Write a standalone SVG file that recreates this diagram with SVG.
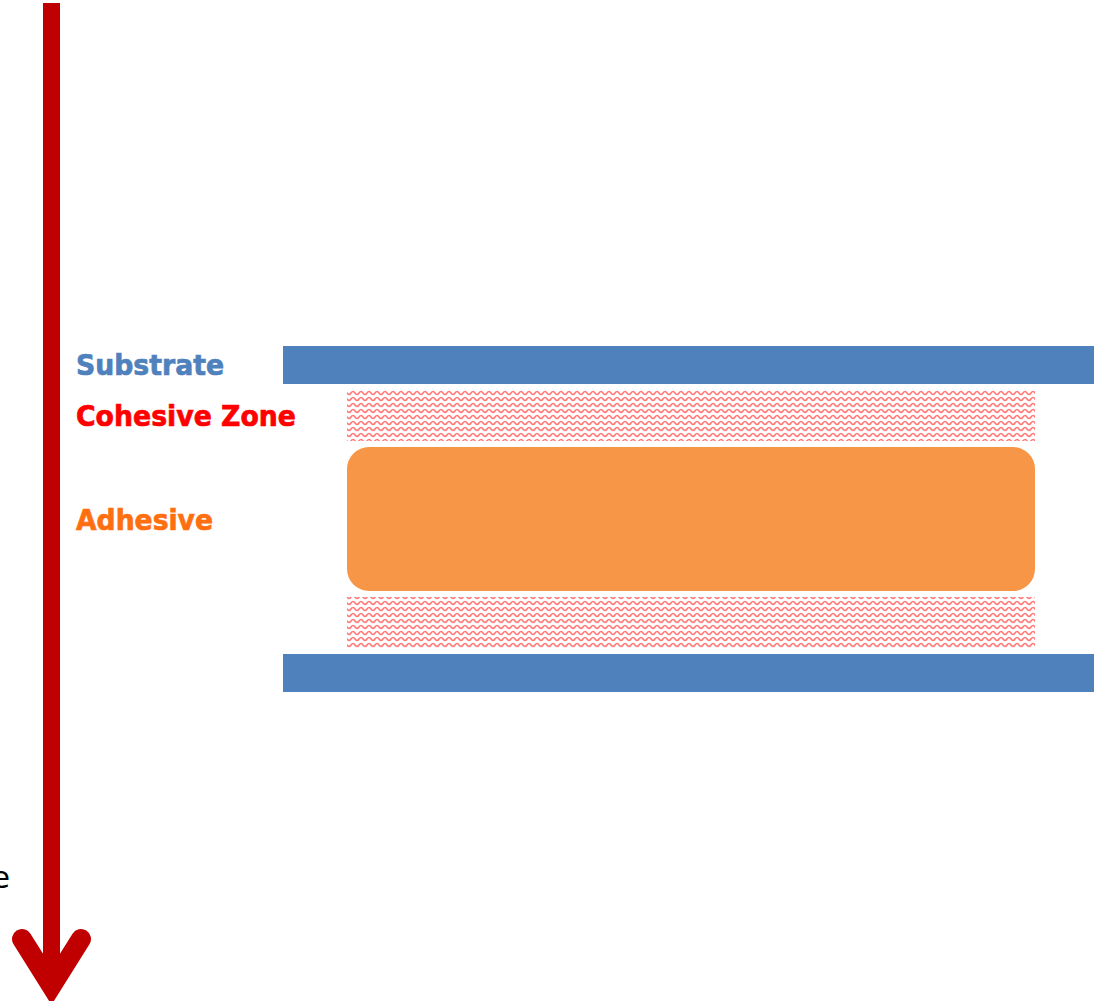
<svg xmlns="http://www.w3.org/2000/svg" width="1094" height="1001" viewBox="0 0 1094 1001">
<defs>
<style>
.lbl{font-family:"DejaVu Sans","Liberation Sans",sans-serif;font-weight:bold;font-size:28.5px;stroke-width:0.7px}
.sub{fill:#4F81BD}
</style>
<pattern id="wave" x="347" y="390" width="8" height="6" patternUnits="userSpaceOnUse">
<path d="M-4,3 Q-2,0 0,3 T4,3 T8,3 T12,3" fill="none" stroke="#FF2020" stroke-width="1.6" stroke-opacity="0.6"/>
</pattern>
</defs>
<rect width="1094" height="1001" fill="#FFFFFF"/>
<g id="axis">
<line x1="51.5" y1="3" x2="51.5" y2="985" stroke="#C00000" stroke-width="17"/>
<path d="M22,939 L51.5,986 L81,939" fill="none" stroke="#C00000" stroke-width="20" stroke-linecap="round" stroke-linejoin="miter"/>
<text x="-9" y="888" font-family="DejaVu Sans, sans-serif" font-size="31" fill="#000000">e</text>
</g>
<g id="substrate-top"><rect class="sub" x="283" y="346" width="811" height="38"/></g>
<g id="cohesive-top"><rect x="347" y="390" width="688" height="51" fill="url(#wave)"/></g>
<g id="adhesive"><rect x="347" y="447" width="688" height="144" rx="22" fill="#F79646"/></g>
<g id="cohesive-bottom"><rect x="347" y="597" width="688" height="51" fill="url(#wave)"/></g>
<g id="substrate-bottom"><rect class="sub" x="283" y="654" width="811" height="38"/></g>
<g id="labels">
<text class="lbl" x="76" y="375" fill="#4F81BD" stroke="#4F81BD" textLength="148" lengthAdjust="spacingAndGlyphs">Substrate</text>
<text class="lbl" x="76" y="426" fill="#FF0000" stroke="#FF0000" textLength="220" lengthAdjust="spacingAndGlyphs">Cohesive Zone</text>
<text class="lbl" x="76" y="530" fill="#FF6F0F" stroke="#FF6F0F" textLength="137" lengthAdjust="spacingAndGlyphs">Adhesive</text>
</g>
<g id="connectors"></g>
</svg>
